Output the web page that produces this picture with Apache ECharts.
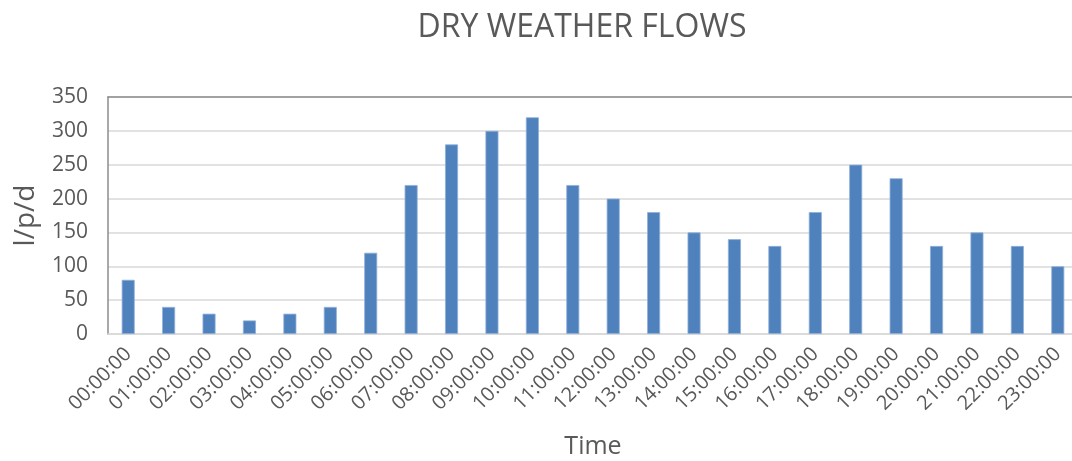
<!DOCTYPE html>
<html>
<head>
<meta charset="utf-8">
<script src="https://cdn.jsdelivr.net/npm/echarts@6/dist/echarts.min.js"></script>
<style>
  html, body { margin: 0; padding: 0; background: #fff; }
  #chart { width: 1072px; height: 461px; }
</style>
</head>
<body>
<div id="chart"></div>
<script>
// Hourly dry weather flow profile (litres per person per day)
const hours = [
  '00:00:00', '01:00:00', '02:00:00', '03:00:00', '04:00:00', '05:00:00',
  '06:00:00', '07:00:00', '08:00:00', '09:00:00', '10:00:00', '11:00:00',
  '12:00:00', '13:00:00', '14:00:00', '15:00:00', '16:00:00', '17:00:00',
  '18:00:00', '19:00:00', '20:00:00', '21:00:00', '22:00:00', '23:00:00'
];
const flows = [80, 40, 30, 20, 30, 40, 120, 220, 280, 300, 320, 220,
               200, 180, 150, 140, 130, 180, 250, 230, 130, 150, 130, 100];
const yTicks = { min: 0, max: 350, step: 50 };

const FONT = '"Open Sans", sans-serif';
const TEXT = '#595959';

const chart = echarts.init(document.getElementById('chart'));
chart.setOption({
  animation: false,
  title: {
    text: 'DRY WEATHER FLOWS',
    left: 577,
    top: 7,
    textAlign: 'center',
    textStyle: { fontFamily: FONT, fontSize: 32, fontWeight: 'normal', color: TEXT }
  },
  grid: { left: 108, top: 97, width: 970, height: 237, outerBoundsMode: 'none' },
  xAxis: [{
    type: 'category',
    data: hours,
    name: 'Time',
    nameLocation: 'middle',
    nameGap: 100,
    nameTextStyle: { fontFamily: FONT, fontSize: 25, color: TEXT },
    axisLine: { lineStyle: { color: '#d9d9d9', width: 1.5 } },
    axisTick: { show: false },
    axisLabel: {
      interval: 0, rotate: 45, margin: 17,
      fontFamily: FONT, fontSize: 20, color: TEXT
    }
  }, {
    type: 'category',
    data: hours,
    position: 'top',
    axisLine: { lineStyle: { color: '#8c8c8c', width: 1.5 } },
    axisTick: { show: false },
    axisLabel: { show: false }
  }],
  yAxis: {
    type: 'value',
    min: yTicks.min,
    max: yTicks.max,
    interval: yTicks.step,
    name: 'l/p/d',
    nameLocation: 'middle',
    nameGap: 68,
    nameTextStyle: { fontFamily: FONT, fontSize: 28, color: TEXT },
    axisLine: { show: true, lineStyle: { color: '#8c8c8c', width: 1.5 } },
    axisTick: { show: false },
    axisLabel: { margin: 20, fontFamily: FONT, fontSize: 21, color: TEXT },
    splitLine: { lineStyle: { color: '#d9d9d9', width: 1.5 } }
  },
  series: [{
    type: 'bar',
    data: flows,
    barWidth: 13,
    itemStyle: { color: '#4f81bd', borderColor: '#8fb0d9', borderWidth: 0.8 }
  }]
});
</script>
</body>
</html>
